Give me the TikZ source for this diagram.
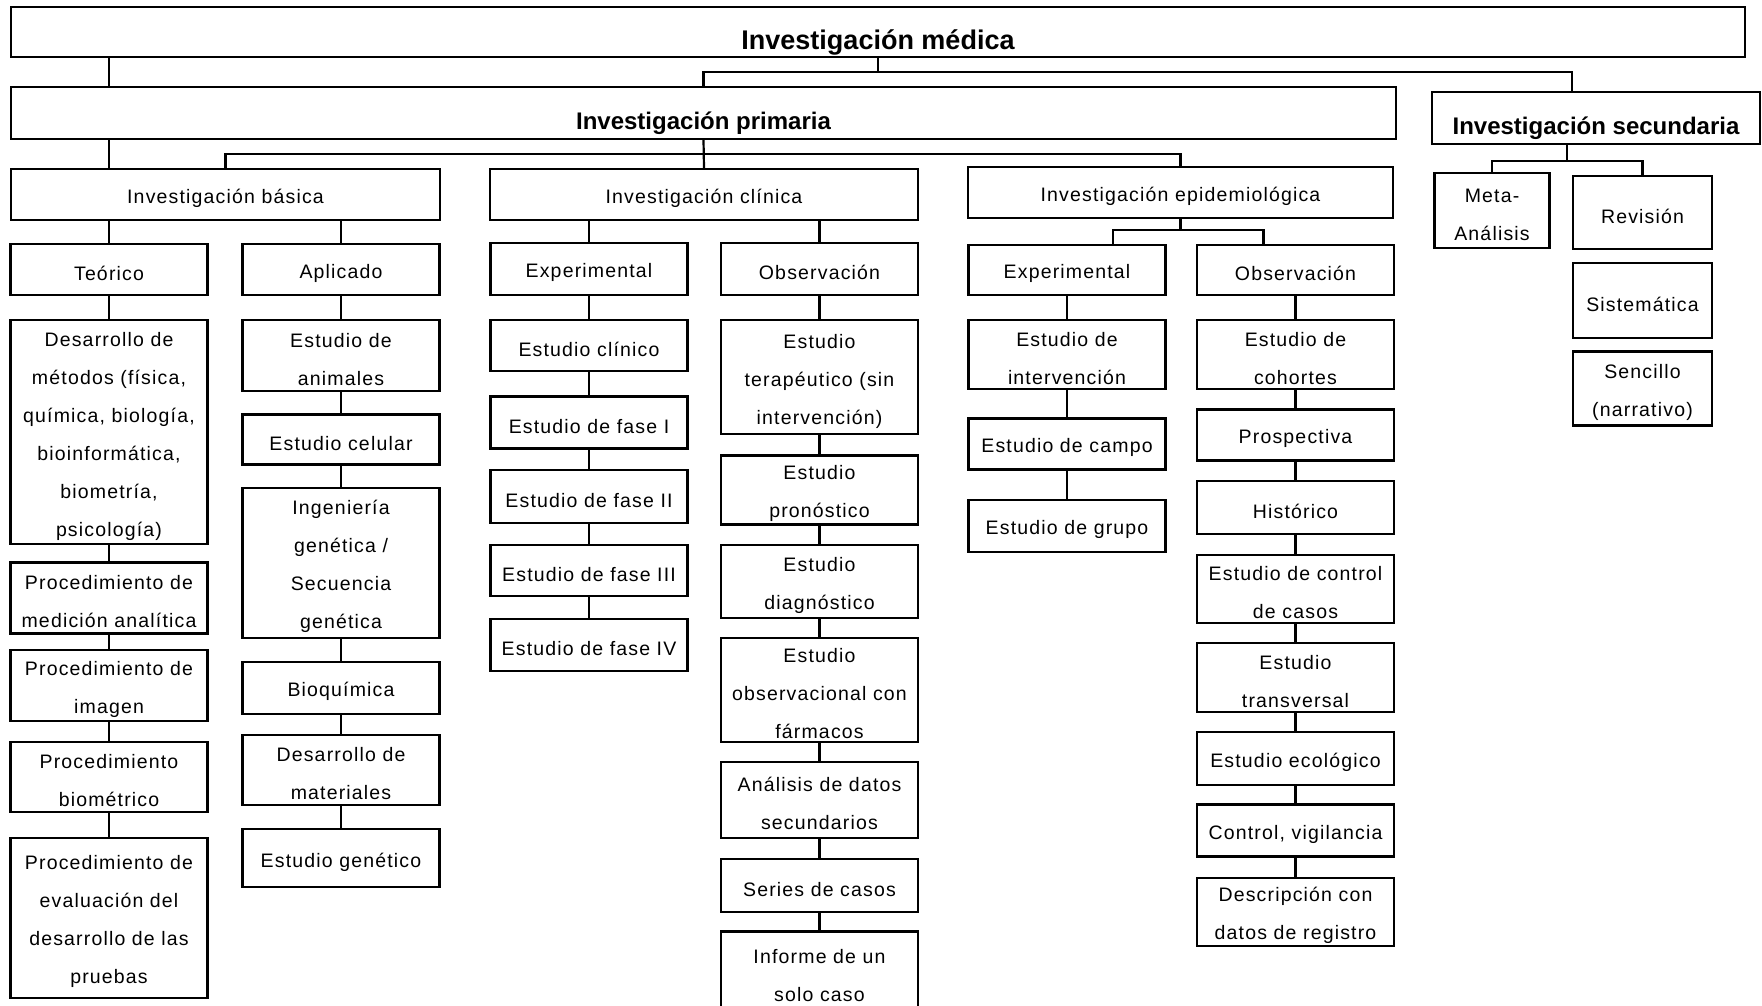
\documentclass[tikz,border=0pt]{standalone}
\usepackage{fontspec}
\setmainfont[LetterSpace=6]{Liberation Sans}
\newfontfamily\headfont{Liberation Sans}
\usetikzlibrary{positioning}

\tikzset{
	box/.style={draw, line width=2.2pt, align=center, inner sep=0pt, minimum width=197pt, font=\fontsize{19.5}{38}\selectfont, execute at begin node={\rule{0pt}{22pt}}},
	two/.style={text height=60pt},
	three/.style={text height=98pt},
	four/.style={text height=136pt},
	six/.style={text height=212pt},
	head/.style={draw, line width=2.2pt, inner sep=0pt, text height=38pt, text depth=6pt, font=\headfont\bfseries\fontsize{24}{28}\selectfont},
	link/.style={line width=2.2pt},
}

\begin{document}
\begin{tikzpicture}[x=1pt, y=1pt]
	\useasboundingbox (0,0) rectangle (1762,-1005);
	\node [head, minimum width=1734pt, minimum height=50pt, text height=41pt, font=\headfont\bfseries\fontsize{27}{30}\selectfont] (Med) at (878,-32) {Investigación médica};
	\node [head, minimum width=1385pt, minimum height=52pt] (Prim) at (703.5,-113) {Investigación primaria};
	\node [head, minimum width=328pt, minimum height=52pt] (Sec) at (1596,-118) {Investigación secundaria};
	\node [box, minimum width=429pt, minimum height=51pt] (Bas) at (225.5,-194.5) {Investigación básica};
	\node [box, minimum width=428pt, minimum height=51pt] (Cli) at (704,-194.5) {Investigación clínica};
	\node [box, minimum width=425pt, minimum height=51pt] (Epi) at (1180.5,-192.5) {Investigación epidemiológica};

	\node [box, minimum height=51pt] (Teo) at (109,-269.5) {Teórico};
	\node [box, six, below=23pt of Teo, minimum height=224pt] (Teo1) {Desarrollo de\\métodos (física,\\química, biología,\\bioinformática,\\biometría,\\psicología)};
	\node [box, two, below=16pt of Teo1, minimum height=71pt] (Teo2) {Procedimiento de\\medición analítica};
	\node [box, two, below=14pt of Teo2, minimum height=71pt] (Teo3) {Procedimiento de\\imagen};
	\node [box, two, below=19pt of Teo3, minimum height=70pt] (Teo4) {Procedimiento\\biométrico};
	\node [box, four, below=24pt of Teo4, minimum height=160pt] (Teo5) {Procedimiento de\\evaluación del\\desarrollo de las\\pruebas};

	\node [box, minimum height=51pt] (Apl) at (341,-269.5) {Aplicado};
	\node [box, two, below=23pt of Apl, minimum height=71pt] (Apl1) {Estudio de\\animales};
	\node [box, below=21pt of Apl1, minimum height=50pt] (Apl2) {Estudio celular};
	\node [box, four, below=21pt of Apl2, minimum height=150pt] (Apl3) {Ingeniería\\genética /\\Secuencia\\genética};
	\node [box, below=22pt of Apl3, minimum height=52pt] (Apl4) {Bioquímica};
	\node [box, two, below=19pt of Apl4, minimum height=70pt] (Apl5) {Desarrollo de\\materiales};
	\node [box, below=22pt of Apl5, minimum height=58pt] (Apl6) {Estudio genético};

	\node [box, minimum height=52pt] (CExp) at (589,-269) {Experimental};
	\node [box, below=23pt of CExp, minimum height=51pt] (CExp1) {Estudio clínico};
	\node [box, below=23pt of CExp1, minimum height=52pt] (CExp2) {Estudio de fase I};
	\node [box, below=19pt of CExp2, minimum height=53pt] (CExp3) {Estudio de fase II};
	\node [box, below=20pt of CExp3, minimum height=51pt] (CExp4) {Estudio de fase III};
	\node [box, below=21pt of CExp4, minimum height=52pt] (CExp5) {Estudio de fase IV};

	\node [box, minimum height=52pt] (CObs) at (819.5,-269) {Observación};
	\node [box, three, below=23pt of CObs, minimum height=114pt] (CObs1) {Estudio\\terapéutico (sin\\intervención)};
	\node [box, two, below=19pt of CObs1, minimum height=69pt] (CObs2) {Estudio\\pronóstico};
	\node [box, two, below=18pt of CObs2, minimum height=73pt] (CObs3) {Estudio\\diagnóstico};
	\node [box, three, below=18pt of CObs3, minimum height=104pt] (CObs4) {Estudio\\observacional con\\fármacos};
	\node [box, two, below=18pt of CObs4, minimum height=76pt] (CObs5) {Análisis de datos\\secundarios};
	\node [box, below=19pt of CObs5, minimum height=53pt] (CObs6) {Series de casos};
	\node [box, two, below=17pt of CObs6, minimum height=80pt] (CObs7) {Informe de un\\solo caso};

	\node [box, minimum height=50pt] (EExp) at (1067,-270) {Experimental};
	\node [box, two, below=23pt of EExp, minimum height=69pt] (EExp1) {Estudio de\\intervención};
	\node [box, below=27pt of EExp1, minimum height=51pt] (EExp2) {Estudio de campo};
	\node [box, below=28pt of EExp2, minimum height=52pt] (EExp3) {Estudio de grupo};

	\node [box, minimum height=50pt] (EObs) at (1295.5,-270) {Observación};
	\node [box, two, below=23pt of EObs, minimum height=69pt] (EObs1) {Estudio de\\cohortes};
	\node [box, below=18pt of EObs1, minimum height=51pt] (EObs2) {Prospectiva};
	\node [box, below=18pt of EObs2, minimum height=53pt] (EObs3) {Histórico};
	\node [box, two, below=19pt of EObs3, minimum height=68pt] (EObs4) {Estudio de control\\de casos};
	\node [box, two, below=18pt of EObs4, minimum height=69pt] (EObs5) {Estudio\\transversal};
	\node [box, below=18pt of EObs5, minimum height=53pt] (EObs6) {Estudio ecológico};
	\node [box, below=17pt of EObs6, minimum height=52pt] (EObs7) {Control, vigilancia};
	\node [box, two, below=19pt of EObs7, minimum height=68pt] (EObs8) {Descripción con\\datos de registro};

	\node [box, two, minimum width=115pt, minimum height=75pt] (Meta) at (1492,-210.5) {Meta-\\Análisis};
	\node [box, minimum width=139pt, minimum height=73pt] (Rev) at (1642.5,-212.5) {Revisión};
	\node [box, below=12pt of Rev, minimum width=139pt, minimum height=75pt] (Sis) {Sistemática};
	\node [box, two, below=11pt of Sis, minimum width=139pt, minimum height=74pt] (Sen) {Sencillo\\(narrativo)};

	\draw [link] (Med.south -| Teo) -- (Prim.north -| Teo);
	\draw [link] (Med.south) -- ++(0,-14) -| (Prim.north);
	\draw [link] (Med.south) -- ++(0,-14) -| ([xshift=-24pt]Sec.north);
	\draw [link] (Prim.south -| Teo) -- (Bas.north -| Teo);
	\draw [link] (Prim.south) -- (Cli.north);
	\draw [link] (Bas.north) -- ++(0,14) -| (Epi.north);
	\draw [link] (Bas.south -| Teo) -- (Teo.north);
	\draw [link] (Bas.south -| Apl) -- (Apl.north);
	\draw [link] (Cli.south -| CExp) -- (CExp.north);
	\draw [link] (Cli.south -| CObs) -- (CObs.north);
	\draw [link] (Epi.south) -- ++(0,-11) -| ([xshift=46pt]EExp.north);
	\draw [link] (Epi.south) -- ++(0,-11) -| ([xshift=-32pt]EObs.north);
	\draw [link] ([xshift=-29pt]Sec.south) -- ++(0,-16) -| (Meta.north);
	\draw [link] ([xshift=-29pt]Sec.south) -- ++(0,-16) -| (Rev.north);

	\draw [link] (Teo) -- (Teo1) (Teo1) -- (Teo2) (Teo2) -- (Teo3) (Teo3) -- (Teo4) (Teo4) -- (Teo5);
	\draw [link] (Apl) -- (Apl1) (Apl1) -- (Apl2) (Apl2) -- (Apl3) (Apl3) -- (Apl4) (Apl4) -- (Apl5) (Apl5) -- (Apl6);
	\draw [link] (CExp) -- (CExp1) (CExp1) -- (CExp2) (CExp2) -- (CExp3) (CExp3) -- (CExp4) (CExp4) -- (CExp5);
	\draw [link] (CObs) -- (CObs1) (CObs1) -- (CObs2) (CObs2) -- (CObs3) (CObs3) -- (CObs4) (CObs4) -- (CObs5) (CObs5) -- (CObs6) (CObs6) -- (CObs7);
	\draw [link] (EExp) -- (EExp1) (EExp1) -- (EExp2) (EExp2) -- (EExp3);
	\draw [link] (EObs) -- (EObs1) (EObs1) -- (EObs2) (EObs2) -- (EObs3) (EObs3) -- (EObs4) (EObs4) -- (EObs5) (EObs5) -- (EObs6) (EObs6) -- (EObs7) (EObs7) -- (EObs8);
\end{tikzpicture}
\end{document}
